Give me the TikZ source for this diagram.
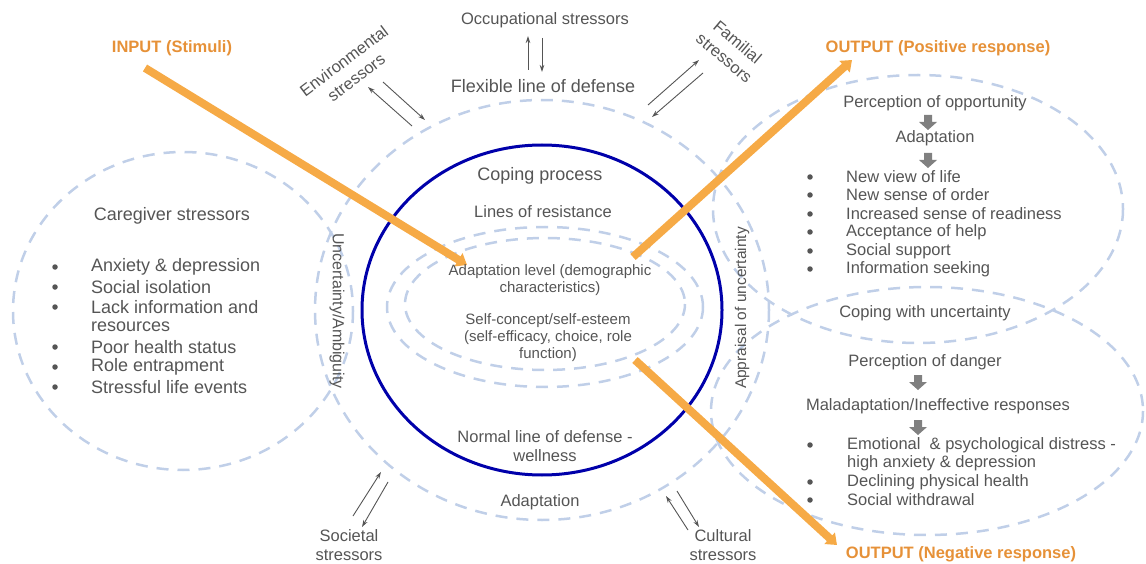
\documentclass[tikz,border=0pt]{standalone}
\usepackage{fontspec}
\setmainfont{Liberation Sans}
\usetikzlibrary{arrows.meta,shapes.geometric}
\definecolor{txt}{RGB}{85,85,85}
\definecolor{dsh}{RGB}{192,207,232}
\definecolor{org}{RGB}{246,170,70}
\definecolor{orgtxt}{RGB}{230,145,56}
\definecolor{blu}{RGB}{0,0,170}
\definecolor{arrgray}{RGB}{128,128,128}
\begin{document}
\begin{tikzpicture}[x=1pt,y=-1pt,
  big/.style={text=txt,font=\fontsize{18}{20}\selectfont,inner sep=0pt,align=center},
  mid/.style={text=txt,font=\fontsize{16.5}{18.5}\selectfont,inner sep=0pt,align=center},
  rot/.style={text=txt,font=\fontsize{16.5}{20.5}\selectfont,inner sep=0pt,align=center},
  sml/.style={text=txt,font=\fontsize{15}{17}\selectfont,inner sep=0pt,align=center},
  otitle/.style={text=orgtxt,font=\fontsize{16.5}{18}\selectfont\bfseries,inner sep=0pt},
  dline/.style={draw=dsh,line width=2.5pt,dash pattern=on 12pt off 9pt},
  oarrow/.style={draw=org,line width=8pt,-{Triangle[length=10pt,width=15pt]}},
  sarrow/.style={draw=txt,line width=0.9pt,-{Stealth[length=7pt,width=4.5pt]}},
  bul/.style={circle,fill=txt,inner sep=0pt,minimum size=5.5pt},
  ltxt/.style={text=txt,font=\fontsize{18}{20}\selectfont,inner sep=0pt,anchor=west},
  rtxt/.style={text=txt,font=\fontsize{16.5}{18.5}\selectfont,inner sep=0pt,anchor=west},
  darrow/.pic={\fill[arrgray] (-4,-7) -- (4,-7) -- (4,0) -- (9,0) -- (0,8) -- (-9,0) -- (-4,0) -- cycle;}
]
\useasboundingbox (0,0) rectangle (1146,564);

% dashed ellipses
\draw[dline] (183,311) ellipse [x radius=170, y radius=159];
\draw[dline] (542,310) ellipse [x radius=227, y radius=210];
\draw[dline] (545,307) ellipse [x radius=158, y radius=80];
\draw[dline] (545,304) ellipse [x radius=140, y radius=66];
\draw[dline] (918,209) ellipse [x radius=205, y radius=134];
\draw[dline] (927,411) ellipse [x radius=216, y radius=124];

% normal line of defense
\draw[blu,line width=3pt] (542,310) ellipse [x radius=180, y radius=165];

% orange arrows
\coordinate (in1) at (145,68);
\coordinate (in2) at (467,265);
\coordinate (po1) at (633,257);
\coordinate (po2) at (852,60);
\coordinate (ne1) at (635,360);
\coordinate (ne2) at (837,545);
\draw[oarrow] (in1) -- (in2);
\draw[oarrow] (po1) -- (po2);
\draw[oarrow] (ne1) -- (ne2);

\node[otitle] (tin) at (172,48) {INPUT (Stimuli)};
\node[otitle] (tpos) at (938,48) {OUTPUT (Positive response)};
\node[otitle] (tneg) at (961,554) {OUTPUT (Negative response)};

% stressors
\node[mid] (occ) at (545,20) {Occupational stressors};
\node[rot,rotate=37] (env) at (350,69) {Environmental\\stressors};
\node[rot,rotate=-40] (fam) at (731,50) {Familial\\stressors};
\node[mid] (soc) at (349,545) {Societal\\stressors};
\node[mid] (cul) at (723,545) {Cultural\\stressors};

% small arrows
\coordinate (oa1) at (528,70); \coordinate (oa2) at (528,36);
\coordinate (ob1) at (542,38); \coordinate (ob2) at (542,72);
\draw[sarrow] (oa1) -- (oa2);
\draw[sarrow] (ob1) -- (ob2);
\coordinate (ea1) at (412,126); \coordinate (ea2) at (368,87);
\coordinate (eb1) at (383,82); \coordinate (eb2) at (425,120);
\draw[sarrow] (ea1) -- (ea2);
\draw[sarrow] (eb1) -- (eb2);
\coordinate (fa1) at (648,105); \coordinate (fa2) at (699,60);
\coordinate (fb1) at (703,73); \coordinate (fb2) at (652,117);
\draw[sarrow] (fa1) -- (fa2);
\draw[sarrow] (fb1) -- (fb2);
\coordinate (sa1) at (353,516); \coordinate (sa2) at (381,472);
\coordinate (sb1) at (388,482); \coordinate (sb2) at (362,527);
\draw[sarrow] (sa1) -- (sa2);
\draw[sarrow] (sb1) -- (sb2);
\coordinate (ca1) at (688,530); \coordinate (ca2) at (666,496);
\coordinate (cb1) at (677,491); \coordinate (cb2) at (699,527);
\draw[sarrow] (ca1) -- (ca2);
\draw[sarrow] (cb1) -- (cb2);

% central labels
\node[big] (flex) at (543,86) {Flexible line of defense};
\node[big] (cope) at (540,176) {Coping process};
\node[mid] (lor) at (543,212) {Lines of resistance};
\node[sml] (adl) at (550,280) {Adaptation level (demographic\\characteristics)};
\node[sml] (sce) at (548,338) {Self-concept/self-esteem\\(self-efficacy, choice, role\\function)};
\node[mid] (nld) at (545,446) {Normal line of defense -\\wellness};
\node[mid] (adb) at (540,502) {Adaptation};
\node[text=txt,font=\fontsize{16}{18}\selectfont,inner sep=0pt,rotate=-90] (unc) at (337,311) {Uncertainty/Ambiguity};
\node[text=txt,font=\fontsize{15.5}{18}\selectfont,inner sep=0pt,rotate=90] (app) at (742,308) {Appraisal of uncertainty};

% caregiver stressors
\node[big] (cg) at (172,216) {Caregiver stressors};
\node[bul] at (55,267) {}; \node[ltxt] (l1) at (91,267) {Anxiety \& depression};
\node[bul] at (55,287) {}; \node[ltxt] (l2) at (91,287) {Social isolation};
\node[bul] at (55,307) {}; \node[ltxt] (l3) at (91,307) {Lack information and};
\node[ltxt] (l3b) at (91,327) {resources};
\node[bul] at (55,347) {}; \node[ltxt] (l4) at (91,347) {Poor health status};
\node[bul] at (55,367) {}; \node[ltxt] (l5) at (91,367) {Role entrapment};
\node[bul] at (55,387) {}; \node[ltxt] (l6) at (91,387) {Stressful life events};

% positive response
\node[mid] (popp) at (935,103) {Perception of opportunity};
\pic at (928,122) {darrow};
\node[mid] (padp) at (935,138) {Adaptation};
\pic at (928,160) {darrow};
\node[bul] at (810,177) {}; \node[rtxt] (p1) at (846,177) {New view of life};
\node[bul] at (810,195) {}; \node[rtxt] (p2) at (846,195) {New sense of order};
\node[bul] at (810,214) {}; \node[rtxt] (p3) at (846,214) {Increased sense of readiness};
\node[bul] at (810,232) {}; \node[rtxt] (p4) at (846,232) {Acceptance of help};
\node[bul] at (810,251) {}; \node[rtxt] (p5) at (846,251) {Social support};
\node[bul] at (810,269) {}; \node[rtxt] (p6) at (846,269) {Information seeking};

\node[mid] (cwu) at (925,313) {Coping with uncertainty};

% negative response
\node[mid] (pdan) at (925,362) {Perception of danger};
\pic at (918,382) {darrow};
\node[mid] (mal) at (938,406) {Maladaptation/Ineffective responses};
\pic at (918,427) {darrow};
\node[bul] at (810,445) {}; \node[rtxt] (n1) at (847,445) {Emotional\ \ \& psychological distress -};
\node[rtxt] (n1b) at (847,463) {high anxiety \& depression};
\node[bul] at (810,482) {}; \node[rtxt] (n2) at (847,482) {Declining physical health};
\node[bul] at (810,500) {}; \node[rtxt] (n3) at (847,500) {Social withdrawal};
\end{tikzpicture}
\end{document}
